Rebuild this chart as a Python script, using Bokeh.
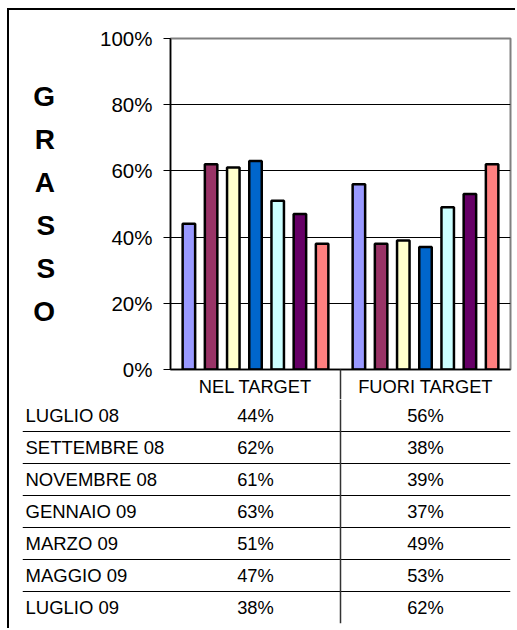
from bokeh.plotting import figure
from bokeh.models import (ColumnDataSource, FixedTicker, NumeralTickFormatter,
                          Range1d, LinearAxis, Grid)
from bokeh.core.properties import value
from bokeh.embed import file_html
from bokeh.resources import INLINE

# ---- data ----
categories = ["NEL TARGET", "FUORI TARGET"]
months = ["LUGLIO 08", "SETTEMBRE 08", "NOVEMBRE 08", "GENNAIO 09",
          "MARZO 09", "MAGGIO 09", "LUGLIO 09"]
nel_target = [44, 62, 61, 63, 51, 47, 38]
fuori_target = [56, 38, 39, 37, 49, 53, 62]
colors = ["#9999FF", "#993366", "#FFFFCC", "#0066CC", "#CCFFFF", "#660066", "#FF8080"]
y_ticks = [0, 20, 40, 60, 80, 100]
side_title = "GRASSO"

FONT = "Liberation Sans"
n = len(months)
ncat = len(categories)
pitch = 0.1306
bar_w = 0.0735

xs, tops, fills = [], [], []
for ci, vals in enumerate([nel_target, fuori_target]):
    for i, v in enumerate(vals):
        xs.append(ci + 0.5 + (i - (n - 1) / 2) * pitch)
        tops.append(v / 100)
        fills.append(colors[i])
src = ColumnDataSource(dict(x=xs, top=tops, fill=fills))

frame_css_top = {"margin-left": "7px", "margin-top": "8px",
                 "border-left": "2px solid black", "border-top": "2px solid black"}
frame_css_side = {"margin-left": "7px", "border-left": "2px solid black"}

# ---- chart ----
W = 508
H1 = 391
TOP, BOT, LEFT, RIGHT = 28, 32, 161, 7
p = figure(width=W, height=H1, x_range=Range1d(0, ncat), y_range=Range1d(0, 1),
           output_backend="svg", toolbar_location=None, title=None,
           min_border_left=LEFT, min_border_right=RIGHT, min_border_top=TOP,
           min_border_bottom=BOT, x_axis_type=None, y_axis_type=None,
           styles=frame_css_top)
p.outline_line_color = "#808080"
p.outline_line_width = 2
p.background_fill_color = "white"
p.border_fill_color = "white"

yaxis = LinearAxis(ticker=FixedTicker(ticks=[t / 100 for t in y_ticks], minor_ticks=[]),
                   formatter=NumeralTickFormatter(format="0%"))
yaxis.major_tick_out = 7
yaxis.major_tick_in = 0
yaxis.major_tick_line_color = "black"
yaxis.axis_line_color = "black"
yaxis.axis_line_width = 1.5
yaxis.major_label_standoff = 11
yaxis.major_label_text_font = FONT
yaxis.major_label_text_font_size = "20.5px"
yaxis.major_label_text_color = "black"
yaxis.axis_label = "\n".join(side_title)
yaxis.axis_label_orientation = "horizontal"
yaxis.axis_label_standoff = 42
yaxis.axis_label_text_font = FONT
yaxis.axis_label_text_font_size = "28px"
yaxis.axis_label_text_font_style = "bold"
yaxis.axis_label_text_color = "black"
yaxis.axis_label_text_line_height = 1.39
yaxis.axis_label_text_align = "center"
p.add_layout(yaxis, "left")

xaxis = LinearAxis(ticker=FixedTicker(ticks=[i + 0.5 for i in range(ncat)],
                                      minor_ticks=[i for i in range(1, ncat)]),
                   major_label_overrides={i + 0.5: c for i, c in enumerate(categories)})
xaxis.major_tick_line_color = None
xaxis.major_tick_out = 0
xaxis.major_tick_in = 0
xaxis.minor_tick_out = BOT
xaxis.minor_tick_in = 0
xaxis.minor_tick_line_color = "#333333"
xaxis.minor_tick_line_width = 1.5
xaxis.axis_line_color = "black"
xaxis.axis_line_width = 1.5
xaxis.major_label_standoff = 6 - BOT
xaxis.major_label_text_font = FONT
xaxis.major_label_text_font_size = "18.3px"
xaxis.major_label_text_color = "black"
p.add_layout(xaxis, "below")

p.add_layout(Grid(dimension=1, ticker=FixedTicker(ticks=[t / 100 for t in y_ticks[1:-1]]),
                  grid_line_color="black", grid_line_width=1))

p.vbar(x="x", top="top", bottom=0, width=bar_w, fill_color="fill",
       line_color="black", line_width=2.5, source=src)

# ---- data table ----
H2 = 229
t = figure(width=W, height=H2, x_range=Range1d(-148 / 170, ncat), y_range=Range1d(0, n),
           output_backend="svg", toolbar_location=None, title=None,
           min_border_left=13, min_border_right=RIGHT, min_border_top=0,
           min_border_bottom=5, x_axis_type=None, y_axis_type=None,
           styles=frame_css_side)
t.outline_line_color = None
t.background_fill_color = "white"
t.border_fill_color = "white"

row_y = [n - i - 0.5 for i in range(n)]
t.hspan(y=list(range(1, n)), line_color="black", line_width=1)
t.vspan(x=list(range(1, ncat)), line_color="#333333", line_width=1.5)

t.text(x=[t.x_range.start] * n, y=row_y, text=months, x_offset=3,
       text_align="left", text_baseline="middle", text_font=value(FONT),
       text_font_size="18.5px", text_color="black")
for ci, vals in enumerate([nel_target, fuori_target]):
    t.text(x=[ci + 0.5] * n, y=row_y, text=[f"{v}%" for v in vals],
           text_align="center", text_baseline="middle", text_font=value(FONT),
           text_font_size="18.3px", text_color="black")

open("out.html", "w").write(file_html([p, t], INLINE))
